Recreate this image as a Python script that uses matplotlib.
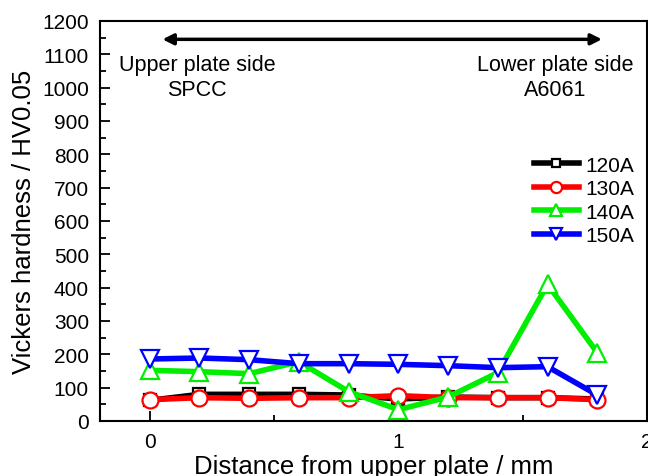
import matplotlib.pyplot as plt
from matplotlib.ticker import MultipleLocator

distance = [0.0, 0.2, 0.4, 0.6, 0.8, 1.0, 1.2, 1.4, 1.6, 1.8]
hv_120a = [62, 80, 80, 80, 78, 66, 72, 70, 70, 66]
hv_130a = [64, 70, 68, 70, 70, 76, 70, 70, 70, 64]
hv_140a = [152, 148, 142, 178, 88, 34, 72, 145, 410, 205]
hv_150a = [186, 189, 184, 172, 172, 170, 166, 160, 163, 78]

series = [
    ('120A', hv_120a, 'black', 's', 9),
    ('130A', hv_130a, 'red', 'o', 11.5),
    ('140A', hv_140a, '#00ee00', '^', 12.5),
    ('150A', hv_150a, 'blue', 'v', 12.5),
]

plt.rcParams['font.family'] = ['Liberation Sans', 'DejaVu Sans']

fig = plt.figure(figsize=(6.48, 4.77), dpi=100)
ax = fig.add_axes([100 / 648, 55 / 477, 547 / 648, 400 / 477])

for label, values, color, marker, size in series:
    ax.plot(distance, values, color=color, lw=4, marker=marker,
            markersize=size, markerfacecolor='white', markeredgecolor=color,
            markeredgewidth=1.6, label=label)

ax.set_xlim(-0.2, 2.0)
ax.set_ylim(0, 1200)
ax.xaxis.set_major_locator(MultipleLocator(1))
ax.xaxis.set_minor_locator(MultipleLocator(0.5))
ax.yaxis.set_major_locator(MultipleLocator(100))
ax.yaxis.set_minor_locator(MultipleLocator(50))
ax.tick_params(which='both', direction='in', width=1.3, labelsize=15)
ax.tick_params(which='major', length=7, pad=8)
ax.tick_params(which='minor', length=4)
for spine in ax.spines.values():
    spine.set_linewidth(1.5)

ax.set_xlabel('Distance from upper plate / mm', fontsize=18.5, labelpad=2)
ax.set_ylabel('Vickers hardness / HV0.05', fontsize=18.5, labelpad=4)

ax.annotate('', xy=(0.04, 1145), xytext=(1.83, 1145),
            arrowprops=dict(arrowstyle='<|-|>', color='black', lw=2.5,
                            mutation_scale=16))
ax.text(0.19, 1070, 'Upper plate side', fontsize=15.5, ha='center', va='center')
ax.text(0.19, 995, 'SPCC', fontsize=15.5, ha='center', va='center')
ax.text(1.63, 1070, 'Lower plate side', fontsize=15.5, ha='center', va='center')
ax.text(1.63, 995, 'A6061', fontsize=15.5, ha='center', va='center')

leg = ax.legend(loc='upper right', bbox_to_anchor=(1.0, 0.695), frameon=False,
                fontsize=15, markerscale=0.7, handlelength=2.2,
                handletextpad=0.3, labelspacing=0.22, borderaxespad=0.2)

fig.savefig('out.png', dpi=100)
